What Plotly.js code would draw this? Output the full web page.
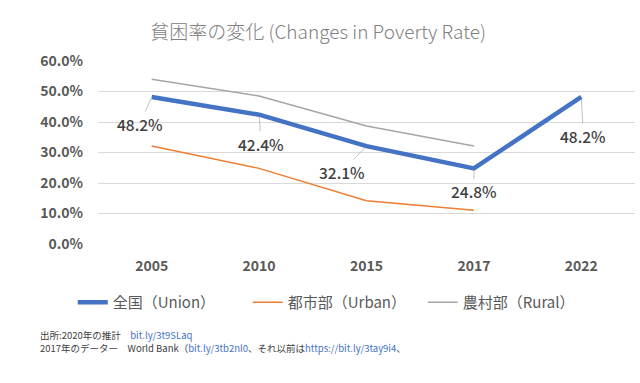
<!DOCTYPE html>
<html><head><meta charset="utf-8">
<script src="https://cdn.plot.ly/plotly-3.0.1.min.js"></script>
<style>html,body{margin:0;padding:0;background:#fff}#c{width:640px;height:383px}</style>
</head><body><div id="c"></div>
<script>
const years = ["2005","2010","2015","2017","2022"];
const unionVals = [0.482, 0.424, 0.321, 0.248, 0.482];
const urbanVals = [0.321, 0.248, 0.142, 0.111];
const ruralVals = [0.540, 0.485, 0.387, 0.321];
const unionLabels = ["48.2%","42.4%","32.1%","24.8%","48.2%"];
const labelOffsets = [[-12,27],[2,29],[-25,26],[0,23],[2,39]];
const sourceLines = [
  '出所:2020年の推計　<span style="color:#4472C4">bit.ly/3t9SLaq</span>',
  '2017年のデーター　World Bank（<span style="color:#4472C4">bit.ly/3tb2nl0</span>、それ以前は<span style="color:#4472C4">https://bit.ly/3tay9i4</span>、'
];
const FONT = '"Noto Sans CJK JP", "Noto Sans", sans-serif';

const traces = [
  {x: years, y: unionVals, name: "全国（Union）", mode: "lines", line: {color: "#4472C4", width: 4.5}},
  {x: years.slice(0,4), y: urbanVals, name: "都市部（Urban）", mode: "lines", line: {color: "#ED7D31", width: 1.5}},
  {x: years.slice(0,4), y: ruralVals, name: "農村部（Rural）", mode: "lines", line: {color: "#A5A5A5", width: 1.5}}
];

const annotations = unionVals.map((v,i)=>({
  x: i, y: v, xref: "x", yref: "y", text: unionLabels[i],
  showarrow: true, arrowhead: 0, arrowwidth: 0.7, arrowcolor: "#A6A6A6",
  ax: labelOffsets[i][0], ay: labelOffsets[i][1], standoff: 2,
  font: {family: FONT, size: 15.5, color: "#404040", weight: 500}
}));
const srcY = [-0.497, -0.568];
sourceLines.forEach((t,i)=>annotations.push({
  xref: "paper", yref: "paper", x: -0.112, y: srcY[i], xanchor: "left", yanchor: "middle", align: "left", showarrow: false,
  text: t, font: {family: FONT, size: 9.5, color: "#404040"}
}));

const layout = {
  width: 640, height: 383,
  margin: {l: 98, r: 5, t: 61, b: 139},
  paper_bgcolor: "#fff", plot_bgcolor: "#fff",
  title: {text: "貧困率の変化 (Changes in Poverty Rate)", x: 0.497, xref: "container", y: 0.915, yanchor: "middle",
          font: {family: FONT, size: 19, color: "#808080", weight: 300}},
  xaxis: {type: "category", range: [-0.5, 4.5], showgrid: false, zeroline: false, showline: false, ticks: "",
          ticklabelstandoff: 12,
          tickfont: {family: FONT, size: 14, color: "#595959", weight: "bold"}},
  yaxis: {range: [0, 0.6], dtick: 0.1, tickformat: ".1%", gridcolor: "#D9D9D9", gridwidth: 1, zeroline: false,
          showline: false, ticks: "", ticklabelstandoff: 14,
          tickfont: {family: FONT, size: 14, color: "#595959", weight: "bold"}},
  showlegend: true,
  legend: {orientation: "h", x: -0.047, xanchor: "left", y: -0.23, yanchor: "top",
           font: {family: FONT, size: 15, color: "#595959"}, itemwidth: 30, tracegroupgap: 0,
           entrywidth: 130, entrywidthmode: "pixels"},
  annotations: annotations
};
Plotly.newPlot("c", traces, layout, {displayModeBar: false, staticPlot: true});
</script></body></html>
